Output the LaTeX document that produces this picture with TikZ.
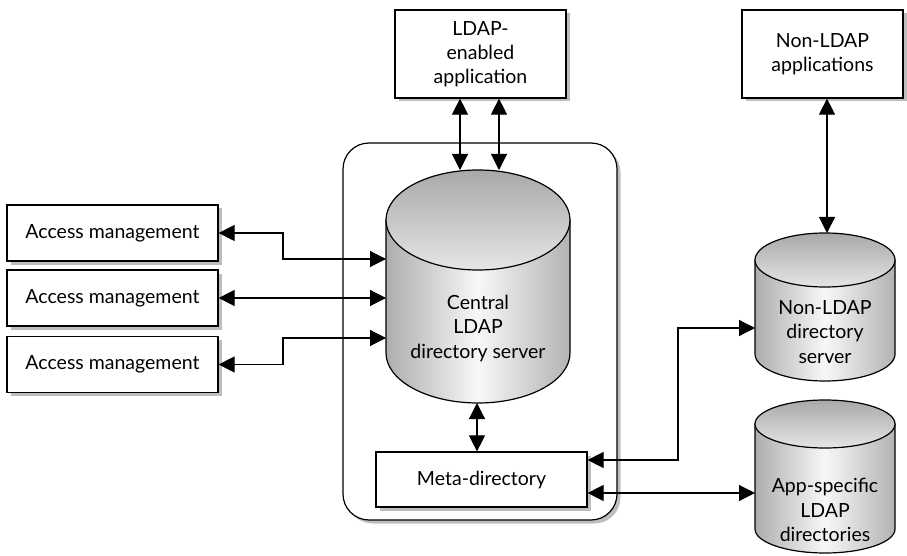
\documentclass[tikz,border=0pt]{standalone}
\usepackage{fontspec}
\setmainfont{Lato}
\usetikzlibrary{arrows.meta,shadows}
\definecolor{shadowgray}{RGB}{190,190,190}
\tikzset{
  shad/.style={drop shadow={shadow xshift=3.5pt,shadow yshift=-3.5pt,fill=shadowgray,opacity=1}},
  box/.style={draw=black,line width=1.2pt,fill=white,shad,align=center,
     font=\fontsize{19.5}{24}\selectfont,inner sep=0pt},
  cyltext/.style={align=center,font=\fontsize{19.5}{24.5}\selectfont,inner sep=0pt},
  anchorbox/.style={inner sep=0pt,outer sep=0pt,draw=none},
  arr/.style={line width=1.1pt,{Triangle[length=16pt,width=16pt]}-{Triangle[length=16pt,width=16pt]}},
}
\newcommand{\dbcyl}[6]{% name, cx, topcenterY, botcenterY, rx, ry
  \shadedraw[line width=1.2pt,left color=gray!64,right color=gray!60,middle color=gray!6]
    (#2-#5,#3) -- (#2-#5,#4) arc[start angle=180,end angle=360,x radius=#5,y radius=#6]
    -- (#2+#5,#3) -- cycle;
  \shadedraw[line width=1.2pt,top color=gray!68,bottom color=gray!20]
    (#2,#3) ellipse[x radius=#5,y radius=#6];
  \node[anchorbox,minimum width=2*#5 pt,minimum height=(#3-#4+2*#6)*1pt]
    (#1) at (#2,{(#3+#4)/2}) {};
}
\begin{document}
\begin{tikzpicture}[x=1pt,y=1pt]
\path[use as bounding box] (0,0) rectangle (907,555);

% central enclosure
\draw[line width=1.2pt,rounded corners=26pt,fill=white,shad] (343,35) rectangle (617,412);

% boxes
\node[box,minimum width=171pt,minimum height=88pt] (ldap) at (480.5,501) {LDAP-\\enabled\\application};
\node[box,minimum width=161pt,minimum height=88pt] (nonapp) at (822.5,501) {Non-LDAP\\applications};
\node[box,minimum width=211pt,minimum height=56pt] (acc1) at (112.5,322) {Access management};
\node[box,minimum width=211pt,minimum height=56pt] (acc2) at (112.5,257) {Access management};
\node[box,minimum width=211pt,minimum height=56pt] (acc3) at (112.5,190.5) {Access management};
\node[box,minimum width=211pt,minimum height=55pt] (meta) at (481.5,75.5) {Meta-directory};

% cylinders
\dbcyl{cen}{478}{335}{202}{92}{50}
\node[cyltext] (centext) at (478,227) {Central\\LDAP\\directory server};
\dbcyl{nlcyl}{825}{295}{201}{70}{27}
\node[cyltext] (nltext) at (825,223) {Non-LDAP\\directory\\server};
\dbcyl{appcyl}{825}{131}{26}{70}{24}
\node[cyltext] (apptext) at (825,45) {App-specific\\LDAP\\directories};

% junction coordinates
\coordinate (j1) at (283,296);
\coordinate (j3) at (283,217);
\coordinate (j4) at (678,227);
\coordinate (j5) at (678,95);
\coordinate (j6) at (680,62);
\coordinate (v1) at (460,0);
\coordinate (v2) at (499,0);
\coordinate (v3) at (477,0);
\coordinate (v4) at (827,0);

% connectors
\draw[arr] (ldap.south -| v1) -- (cen.north -| v1);
\draw[arr] (ldap.south -| v2) -- (cen.north -| v2);
\draw[arr] (acc1.east) -| (j1) -- (cen.west |- j1);
\draw[arr] (acc2.east) -- (cen.west |- acc2.east);
\draw[arr] (acc3.east) -| (j3) -- (cen.west |- j3);
\draw[arr] (cen.south -| v3) -- (meta.north -| v3);
\draw[arr] (nlcyl.west |- j4) -- (j4) -- (j5) -- (meta.east |- j5);
\draw[arr] (meta.east |- j6) -- (appcyl.west |- j6);
\draw[arr] (nonapp.south -| v4) -- (nlcyl.north -| v4);
\end{tikzpicture}
\end{document}
